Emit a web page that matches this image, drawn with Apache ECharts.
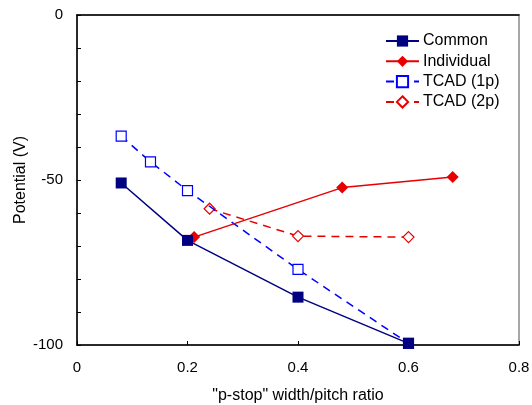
<!DOCTYPE html>
<html><head><meta charset="utf-8">
<script src="https://cdn.jsdelivr.net/npm/echarts@6/dist/echarts.min.js"></script>
<style>html,body{margin:0;padding:0;background:#fff}#c{width:532px;height:405px}</style>
</head><body><div id="c"></div>
<script>
var seriesNames = ['Common', 'Individual', 'TCAD (1p)', 'TCAD (2p)'];
var commonX = [0.08, 0.2, 0.4, 0.6];
var commonY = [-50.9, -68.3, -85.5, -99.5];
var individualX = [0.212, 0.48, 0.68];
var individualY = [-67.3, -52.3, -49.1];
var tcad1pX = [0.08, 0.133, 0.2, 0.4, 0.6];
var tcad1pY = [-36.7, -44.5, -53.2, -77.1, -99.5];
var tcad2pX = [0.24, 0.4, 0.6];
var tcad2pY = [-58.7, -67.0, -67.3];
var xTicks = [0, 0.2, 0.4, 0.6, 0.8];
var yTicks = [-100, -50, 0];

function pairs(xs, ys){ return xs.map(function(x,i){ return [x, ys[i]]; }); }
var font = 'Arial, "Liberation Sans", sans-serif';
var chart = echarts.init(document.getElementById('c'), null, {renderer:'canvas'});
chart.setOption({
  animation:false,
  backgroundColor:'#fff',
  grid:{left:77, right:13, top:15, bottom:60, outerBoundsMode:'none', containLabel:false,
        show:true, borderColor:'#8a8a8a', borderWidth:1.5},
  legend:{
    orient:'vertical', left:380, top:28, itemGap:4.3, itemWidth:33, itemHeight:14,
    textStyle:{fontFamily:font, fontSize:16, color:'#000', padding:[0,0,0,-1]},
    data:seriesNames
  },
  xAxis:[{
    type:'value', min:xTicks[0], max:xTicks[xTicks.length-1], interval:0.2,
    name:'"p-stop" width/pitch ratio', nameLocation:'middle', nameGap:43,
    nameTextStyle:{fontFamily:font, fontSize:16, color:'#000'},
    axisLine:{show:true, onZero:false, lineStyle:{color:'#000', width:1.5}},
    axisTick:{show:true, inside:true, length:4, lineStyle:{color:'#000'}},
    axisLabel:{fontFamily:font, fontSize:15, color:'#000', margin:15,
      formatter:function(v){ return String(Math.round(v*10)/10); }},
    splitLine:{show:false}
  },{
    type:'value', position:'top', min:0, max:0.8,
    axisLine:{show:true, lineStyle:{color:'#000', width:1.5}},
    axisTick:{show:false}, axisLabel:{show:false}, splitLine:{show:false}
  }],
  yAxis:{
    type:'value', min:yTicks[0], max:yTicks[yTicks.length-1], interval:50,
    name:'Potential (V)', nameLocation:'middle', nameGap:48, nameRotate:90,
    nameMoveOverlap:false,
    nameTextStyle:{fontFamily:font, fontSize:16, color:'#000'},
    axisLine:{show:true, onZero:false, lineStyle:{color:'#000', width:1.5}},
    axisTick:{show:true, inside:true, length:4, lineStyle:{color:'#000'}},
    minorTick:{show:true, splitNumber:5, length:4, lineStyle:{color:'#000'}},
    axisLabel:{fontFamily:font, fontSize:15, color:'#000', margin:14},
    splitLine:{show:false}
  },
  series:[
    {name:seriesNames[0], type:'line', data:pairs(commonX, commonY), z:5,
     symbol:'rect', symbolSize:11,
     itemStyle:{color:'#000080'}, lineStyle:{color:'#000080', width:1.5}},
    {name:seriesNames[1], type:'line', data:pairs(individualX, individualY), z:4,
     symbol:'diamond', symbolSize:12,
     itemStyle:{color:'#e60000'}, lineStyle:{color:'#e60000', width:1.5}},
    {name:seriesNames[2], type:'line', data:pairs(tcad1pX, tcad1pY), z:3,
     symbol:'rect', symbolSize:10,
     itemStyle:{color:'#fff', borderColor:'#0000ff', borderWidth:1.2},
     lineStyle:{color:'#0000ff', width:1.5, type:[8,6]}},
    {name:seriesNames[3], type:'line', data:pairs(tcad2pX, tcad2pY), z:2,
     symbol:'diamond', symbolSize:11,
     itemStyle:{color:'#fff', borderColor:'#e60000', borderWidth:1.2},
     lineStyle:{color:'#e60000', width:1.5, type:[8,6]}}
  ]
});
</script></body></html>
